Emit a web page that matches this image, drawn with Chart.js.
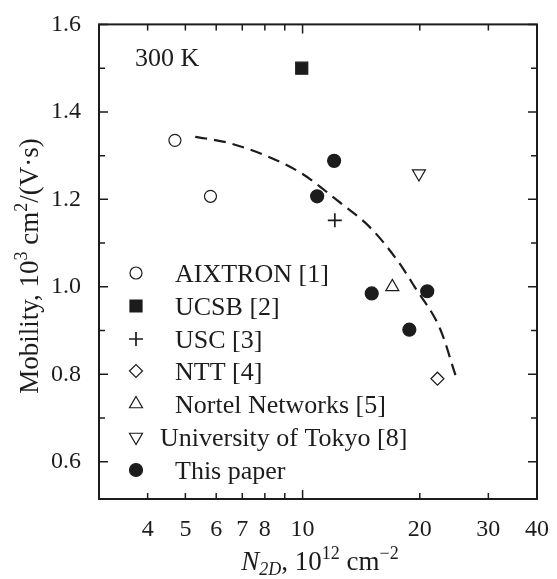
<!DOCTYPE html>
<html>
<head>
<meta charset="utf-8">
<script src="https://cdn.jsdelivr.net/npm/chart.js"></script>
<style>
html, body { margin:0; padding:0; background:#fff; }
</style>
</head>
<body>
<canvas id="mobility_chart" width="557" height="579"></canvas>
<script>
// data (N2D in 10^12 cm^-2, mobility in 10^3 cm^2/(V*s))
const aixtronX = [4.7, 5.8];
const aixtronY = [1.335, 1.207];
const ucsbX = [9.95];
const ucsbY = [1.5];
const uscX = [12.1];
const uscY = [1.152];
const nttX = [22.2];
const nttY = [0.79];
const nortelX = [17.0];
const nortelY = [1.0];
const tokyoX = [19.9];
const tokyoY = [1.259];
const paperX = [10.9, 12.05, 15.05, 18.8, 20.9];
const paperY = [1.207, 1.288, 0.985, 0.902, 0.990];
const fitX = [5.3, 6.4, 8.1, 10.0, 12.3, 14.9, 17.5, 19.4, 22.6, 24.7]; // dashed curve
const fitY = [1.343, 1.330, 1.299, 1.258, 1.197, 1.136, 1.061, 1.0, 0.902, 0.798];

const seriesNames = ['AIXTRON [1]', 'UCSB [2]', 'USC [3]', 'NTT [4]', 'Nortel Networks [5]', 'University of Tokyo [8]', 'This paper'];
const xTicks = [4, 5, 6, 7, 8, 9, 10, 20, 30, 40];
const xTickLabels = ['4', '5', '6', '7', '8', '', '10', '20', '30', '40'];
const yTicks = [0.6, 0.8, 1.0, 1.2, 1.4, 1.6];
const yMinorTicks = [0.7, 0.9, 1.1, 1.3, 1.5];

const FONT = "'Liberation Serif', 'DejaVu Serif', serif";
const INK = '#1c1c1c';

const pts = (xs, ys) => xs.map((v, i) => ({x: v, y: ys[i]}));

function marker(label, xs, ys, style, radius, filled, rotation) {
	return {
		label: label,
		data: pts(xs, ys),
		pointStyle: style,
		pointRadius: radius,
		pointHoverRadius: radius,
		pointRotation: rotation || 0,
		pointBackgroundColor: filled ? INK : '#fff',
		pointBorderColor: INK,
		pointBorderWidth: style === 'cross' ? 1.7 : 1.2,
		showLine: false,
	};
}

// text with sub/superscripts
function drawRich(ctx, parts, x, y) {
	let total = 0;
	parts.forEach(p => {
		ctx.font = (p.it ? 'italic ' : '') + p.size + 'px ' + FONT;
		p.w = ctx.measureText(p.t).width;
		total += p.w;
	});
	let cx = x - total / 2;
	parts.forEach(p => {
		ctx.font = (p.it ? 'italic ' : '') + p.size + 'px ' + FONT;
		ctx.fillText(p.t, cx, y + (p.dy || 0));
		cx += p.w;
	});
}

const decorations = {
	id: 'decorations',
	afterDraw(chart) {
		const {ctx, chartArea: a, scales: {x, y}} = chart;
		ctx.save();
		// frame
		ctx.strokeStyle = INK;
		ctx.lineWidth = 2;
		ctx.strokeRect(a.left, a.top, a.right - a.left, a.bottom - a.top);
		// inward ticks
		ctx.lineWidth = 1.5;
		ctx.beginPath();
		const yTick = (v, len) => {
			const p = y.getPixelForValue(v);
			ctx.moveTo(a.left, p); ctx.lineTo(a.left + len, p);
			ctx.moveTo(a.right, p); ctx.lineTo(a.right - len, p);
		};
		yTicks.forEach(v => yTick(v, 9));
		yMinorTicks.forEach(v => yTick(v, 6));
		xTicks.forEach(v => {
			const p = x.getPixelForValue(v);
			const len = v === 10 ? 9 : 6;
			ctx.moveTo(p, a.bottom); ctx.lineTo(p, a.bottom - len);
			ctx.moveTo(p, a.top); ctx.lineTo(p, a.top + len);
		});
		ctx.stroke();

		ctx.fillStyle = INK;
		ctx.textBaseline = 'alphabetic';
		ctx.textAlign = 'left';
		ctx.font = '26px ' + FONT;
		ctx.fillText('300 K', 135, 66);

		// legend
		const rows = [273, 306, 339, 371, 404, 437, 470];
		chart.data.datasets.forEach((ds, i) => {
			if (i >= seriesNames.length) return;
			const cy = rows[i];
			ctx.fillStyle = ds.pointBackgroundColor;
			ctx.strokeStyle = ds.pointBorderColor;
			ctx.lineWidth = ds.pointBorderWidth;
			Chart.helpers.drawPoint(ctx, {
				pointStyle: ds.pointStyle,
				rotation: ds.pointRotation,
				radius: ds.pointRadius,
				borderWidth: ds.pointBorderWidth
			}, 136, cy);
			ctx.fillStyle = INK;
			ctx.font = '26px ' + FONT;
			ctx.fillText(ds.label, i === 5 ? 160 : 175, cy + 9);
		});

		// axis titles
		ctx.fillStyle = INK;
		drawRich(ctx, [
			{t: 'N', size: 27, it: true},
			{t: '2D', size: 18, it: true, dy: 5},
			{t: ', 10', size: 27},
			{t: '12', size: 18, dy: -11},
			{t: ' cm', size: 27},
			{t: '\u22122', size: 18, dy: -11}
		], 320, 570);

		ctx.translate(38, 266);
		ctx.rotate(-Math.PI / 2);
		drawRich(ctx, [
			{t: 'Mobility, 10', size: 27},
			{t: '3', size: 18, dy: -11},
			{t: ' cm', size: 27},
			{t: '2', size: 18, dy: -11},
			{t: '/(V\u00B7s)', size: 27}
		], 0, 0);
		ctx.restore();
	}
};

const ctx = document.getElementById('mobility_chart').getContext('2d');
const mobility_chart = new Chart(ctx, {
	type: 'scatter',
	plugins: [decorations],
	data: {
		datasets: [
			marker(seriesNames[0], aixtronX, aixtronY, 'circle', 6, false),
			marker(seriesNames[1], ucsbX, ucsbY, 'rect', 8.5, true),
			marker(seriesNames[2], uscX, uscY, 'cross', 7, false),
			marker(seriesNames[3], nttX, nttY, 'rectRot', 6.5, false),
			marker(seriesNames[4], nortelX, nortelY, 'triangle', 7.5, false),
			marker(seriesNames[5], tokyoX, tokyoY, 'triangle', 7.5, false, 180),
			marker(seriesNames[6], paperX, paperY, 'circle', 6.5, true),
			{
				label: 'fit',
				data: pts(fitX, fitY),
				showLine: true,
				borderColor: INK,
				borderWidth: 2.2,
				borderDash: [12, 7],
				pointRadius: 0,
				cubicInterpolationMode: 'monotone',
				fill: false,
			}
		]
	},
	options: {
		responsive: false,
		animation: false,
		layout: { padding: { left: 0, right: 16, top: 22, bottom: 0 } },
		scales: {
			x: {
				type: 'logarithmic',
				min: 3,
				max: 40,
				afterBuildTicks: s => { s.ticks = xTicks.map(v => ({value: v})); },
				afterFit: s => { s.height = 80; },
				grid: { display: false },
				border: { display: false },
				ticks: {
					autoSkip: false,
					maxRotation: 0,
					padding: 8,
					color: INK,
					font: { family: FONT, size: 24 },
					callback: (v, i) => xTickLabels[i]
				}
			},
			y: {
				min: 0.515,
				max: 1.6,
				afterBuildTicks: s => { s.ticks = yTicks.map(v => ({value: v})); },
				afterFit: s => { s.width = 99; },
				grid: { display: false },
				border: { display: false },
				ticks: {
					padding: 10,
					color: INK,
					font: { family: FONT, size: 24 },
					callback: v => v.toFixed(1)
				}
			}
		},
		plugins: {
			legend: { display: false },
			tooltip: { enabled: false }
		}
	}
});
</script>
</body>
</html>
